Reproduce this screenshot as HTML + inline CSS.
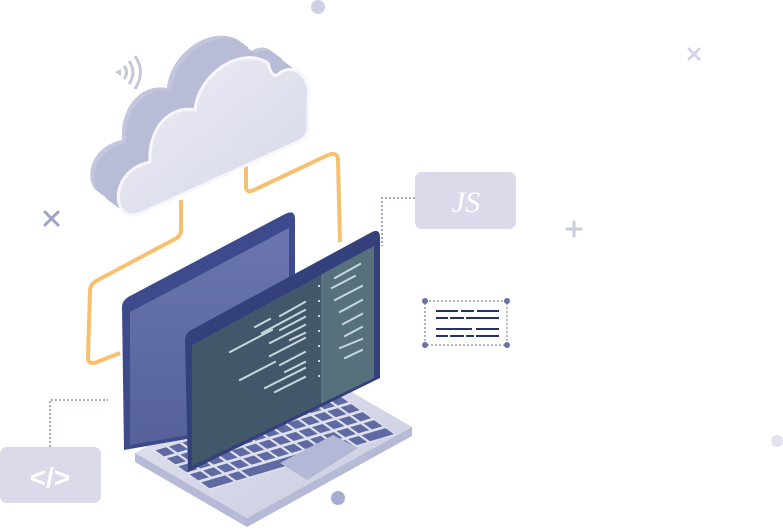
<!DOCTYPE html>
<html><head><meta charset="utf-8"><style>
html,body{margin:0;padding:0;background:#fff;width:783px;height:532px;overflow:hidden}
svg{display:block}
</style></head><body>
<svg width="783" height="532" viewBox="0 0 783 532" xmlns="http://www.w3.org/2000/svg">
<defs>
<linearGradient id="cf" x1="0" y1="0" x2="1" y2="1"><stop offset="0" stop-color="#ededf5"/><stop offset="1" stop-color="#d5d7e8"/></linearGradient>
<linearGradient id="bs" x1="0" y1="0" x2="0" y2="1"><stop offset="0" stop-color="#6a76ad"/><stop offset="1" stop-color="#56619a"/></linearGradient>
<linearGradient id="base" x1="0" y1="0" x2="1" y2="1"><stop offset="0" stop-color="#e4e5f0"/><stop offset="1" stop-color="#c9cbe0"/></linearGradient>
<path id="cl" d="M130 215 C112 212 112 170 150 162 C148 128 170 105 195 110 C198 75 240 45 268 63 C271 76 275 78 281 72 C300 62 312 85 308 100 L308 128 C308 135 303 140 295 143 L148 210 C140 214 135 215 130 215Z"/>
</defs>

<!-- decorations -->
<circle cx="318" cy="7" r="7" fill="#cdd0e3"/>
<circle cx="338" cy="498" r="7" fill="#a8acd0"/>
<circle cx="777" cy="441" r="6" fill="#e2e3ee"/>
<g stroke="#9ea2c6" stroke-width="3" stroke-linecap="round"><line x1="45" y1="212" x2="58" y2="225"/><line x1="58" y1="212" x2="45" y2="225"/></g>
<g stroke="#d4d6e6" stroke-width="3" stroke-linecap="round"><line x1="689" y1="49" x2="699" y2="59"/><line x1="699" y1="49" x2="689" y2="59"/></g>
<g stroke="#c9cbdf" stroke-width="3" stroke-linecap="round"><line x1="574" y1="222" x2="574" y2="236"/><line x1="567" y1="229" x2="581" y2="229"/></g>

<!-- wifi -->
<g fill="none" stroke="#c6c8d8" stroke-width="3">
<path d="M124 66 q5 6 0 13"/><path d="M129 61 q8 11 0 23"/><path d="M135 56 q11 16 0 33"/>
</g>
<path d="M115 72 l6 -3 v7z" fill="#c6c8d8"/>

<!-- orange connectors -->
<g fill="none" stroke="#f7c06e" stroke-width="4" stroke-linejoin="round">
<path d="M181 200 V230 q0 6 -6 9 L96 281 q-6 4 -6 10 L88 356 q0 10 9 6 L120 353"/>
<path d="M246 160 V186 q0 8 8 4 L328 155 q10 -4 10 6 L340 242"/>
</g>

<!-- cloud extrusion -->
<g fill="#b9bcd6">
<use href="#cl" transform="translate(-28,-22)" fill="#c3c5dc"/>
<use href="#cl" transform="translate(-24,-19)"/>
<use href="#cl" transform="translate(-20,-16)"/>
<use href="#cl" transform="translate(-16,-12)"/>
<use href="#cl" transform="translate(-12,-9)"/>
<use href="#cl" transform="translate(-8,-6)"/>
<use href="#cl" transform="translate(-4,-3)"/>
</g>
<use href="#cl" fill="url(#cf)" stroke="#f7f7fb" stroke-width="3"/>

<!-- laptop base -->
<path d="M135 453 L300 362 L412 427 L247 518z" fill="url(#base)"/>
<path d="M135 453 L247 518 L412 427 L412 436 L247 527 L135 462z" fill="#b7bad6"/>
<!-- keyboard -->
<g transform="matrix(13.36,-3.93,11.4,8,153,450)">
<rect x="0" y="0" width="14" height="5" fill="#dfe0ee"/>
<g fill="#5f6aa3">
<rect x="0.1" y="0.1" width="0.8" height="0.75"/><rect x="1.1" y="0.1" width="0.8" height="0.75"/><rect x="2.1" y="0.1" width="0.8" height="0.75"/><rect x="3.1" y="0.1" width="0.8" height="0.75"/><rect x="4.1" y="0.1" width="0.8" height="0.75"/><rect x="5.1" y="0.1" width="0.8" height="0.75"/><rect x="6.1" y="0.1" width="0.8" height="0.75"/><rect x="7.1" y="0.1" width="0.8" height="0.75"/><rect x="8.1" y="0.1" width="0.8" height="0.75"/><rect x="9.1" y="0.1" width="0.8" height="0.75"/><rect x="10.1" y="0.1" width="0.8" height="0.75"/><rect x="11.1" y="0.1" width="0.8" height="0.75"/><rect x="12.1" y="0.1" width="0.8" height="0.75"/><rect x="13.1" y="0.1" width="0.8" height="0.75"/>
<rect x="0.1" y="1.1" width="0.8" height="0.75"/><rect x="1.1" y="1.1" width="0.8" height="0.75"/><rect x="2.1" y="1.1" width="0.8" height="0.75"/><rect x="3.1" y="1.1" width="0.8" height="0.75"/><rect x="4.1" y="1.1" width="0.8" height="0.75"/><rect x="5.1" y="1.1" width="0.8" height="0.75"/><rect x="6.1" y="1.1" width="0.8" height="0.75"/><rect x="7.1" y="1.1" width="0.8" height="0.75"/><rect x="8.1" y="1.1" width="0.8" height="0.75"/><rect x="9.1" y="1.1" width="0.8" height="0.75"/><rect x="10.1" y="1.1" width="0.8" height="0.75"/><rect x="11.1" y="1.1" width="0.8" height="0.75"/><rect x="12.1" y="1.1" width="0.8" height="0.75"/><rect x="13.1" y="1.1" width="0.8" height="0.75"/>
<rect x="0.1" y="2.1" width="0.8" height="0.75"/><rect x="1.1" y="2.1" width="0.8" height="0.75"/><rect x="2.1" y="2.1" width="0.8" height="0.75"/><rect x="3.1" y="2.1" width="0.8" height="0.75"/><rect x="4.1" y="2.1" width="0.8" height="0.75"/><rect x="5.1" y="2.1" width="0.8" height="0.75"/><rect x="6.1" y="2.1" width="0.8" height="0.75"/><rect x="7.1" y="2.1" width="0.8" height="0.75"/><rect x="8.1" y="2.1" width="0.8" height="0.75"/><rect x="9.1" y="2.1" width="0.8" height="0.75"/><rect x="10.1" y="2.1" width="0.8" height="0.75"/><rect x="11.1" y="2.1" width="0.8" height="0.75"/><rect x="12.1" y="2.1" width="0.8" height="0.75"/><rect x="13.1" y="2.1" width="0.8" height="0.75"/>
<rect x="0.1" y="3.1" width="0.8" height="0.75"/><rect x="1.1" y="3.1" width="0.8" height="0.75"/><rect x="2.1" y="3.1" width="0.8" height="0.75"/><rect x="3.1" y="3.1" width="0.8" height="0.75"/><rect x="4.1" y="3.1" width="0.8" height="0.75"/><rect x="5.1" y="3.1" width="0.8" height="0.75"/><rect x="6.1" y="3.1" width="0.8" height="0.75"/><rect x="7.1" y="3.1" width="0.8" height="0.75"/><rect x="8.1" y="3.1" width="0.8" height="0.75"/><rect x="9.1" y="3.1" width="0.8" height="0.75"/><rect x="10.1" y="3.1" width="0.8" height="0.75"/><rect x="11.1" y="3.1" width="0.8" height="0.75"/><rect x="12.1" y="3.1" width="0.8" height="0.75"/><rect x="13.1" y="3.1" width="0.8" height="0.75"/>
<rect x="0.1" y="4.1" width="1.8" height="0.75"/><rect x="2.1" y="4.1" width="0.8" height="0.75"/><rect x="3.1" y="4.1" width="6.8" height="0.75"/><rect x="10.1" y="4.1" width="0.8" height="0.75"/><rect x="11.1" y="4.1" width="0.8" height="0.75"/><rect x="12.1" y="4.1" width="1.8" height="0.75"/>
</g>
</g>
<!-- trackpad -->
<path d="M280 463 L333 435 L358 448 L307 480z" fill="#b4b8d6"/>

<!-- back screen -->
<path d="M122 307 Q122 300 130 296 L285 214 Q295 209 295 219 L295 420 L124 450 Z" fill="#3d4a8c"/>
<path d="M130 312 L289 228 L289 418 L130 445 Z" fill="url(#bs)"/>

<!-- front screen -->
<path d="M185 340 Q185 333 193 329 L372 232 Q380 228 380 238 L380 378 L188 472 Z" fill="#33407c"/>
<path d="M192 345 L374 246 L374 378 L192 466 Z" fill="#45596a" opacity="0.95"/>
<path d="M322 274 L374 246 L374 378 L322 403 Z" fill="#56707c"/>
<line x1="322" y1="274" x2="322" y2="403" stroke="#6c8590" stroke-width="1"/>
<g stroke="#c7d8dc" stroke-width="2" stroke-linecap="square">
<line x1="255" y1="327" x2="270" y2="319"/><line x1="280" y1="316" x2="305" y2="302"/>
<line x1="262" y1="333" x2="305" y2="310"/><line x1="280" y1="330" x2="305" y2="317"/>
<line x1="230" y1="352" x2="272" y2="330"/><line x1="270" y1="343" x2="305" y2="325"/>
<line x1="290" y1="340" x2="305" y2="333"/><line x1="270" y1="356" x2="305" y2="338"/>
<line x1="240" y1="380" x2="275" y2="362"/><line x1="280" y1="365" x2="305" y2="352"/>
<line x1="285" y1="372" x2="305" y2="362"/><line x1="265" y1="388" x2="305" y2="368"/>
<line x1="275" y1="392" x2="305" y2="377"/>
<line x1="335" y1="278" x2="360" y2="264"/><line x1="332" y1="288" x2="355" y2="276"/>
<line x1="335" y1="300" x2="362" y2="286"/><line x1="340" y1="312" x2="362" y2="300"/>
<line x1="343" y1="324" x2="362" y2="314"/><line x1="345" y1="336" x2="362" y2="327"/>
<line x1="340" y1="348" x2="362" y2="339"/><line x1="345" y1="358" x2="362" y2="350"/>
</g>
<g fill="#c7d8dc"><rect x="318" y="285" width="2" height="2"/><rect x="318" y="300" width="2" height="2"/><rect x="318" y="315" width="2" height="2"/><rect x="318" y="330" width="2" height="2"/><rect x="318" y="345" width="2" height="2"/><rect x="318" y="360" width="2" height="2"/><rect x="318" y="375" width="2" height="2"/></g>

<!-- JS box -->
<polyline points="415,198 382,198 382,246" fill="none" stroke="#a4a7c6" stroke-width="2" stroke-dasharray="2,2"/>
<rect x="415" y="172" width="101" height="57" rx="7" fill="#dadaea"/>
<text x="466" y="212" text-anchor="middle" font-family="Liberation Serif, serif" font-style="italic" font-size="30" fill="#fff">JS</text>

<!-- code box -->
<rect x="425" y="301" width="82" height="44" fill="none" stroke="#9a9ec0" stroke-width="1.5" stroke-dasharray="2,2"/>
<g fill="#6a70a8"><circle cx="425" cy="301" r="3"/><circle cx="507" cy="301" r="3"/><circle cx="425" cy="345" r="3"/><circle cx="507" cy="345" r="3"/></g>
<g stroke="#263368" stroke-width="2">
<line x1="436" y1="311" x2="458" y2="311"/><line x1="461" y1="311" x2="474" y2="311"/><line x1="477" y1="311" x2="499" y2="311"/>
<line x1="436" y1="318" x2="448" y2="318"/><line x1="450" y1="318" x2="464" y2="318"/><line x1="466" y1="318" x2="499" y2="318"/>
<line x1="436" y1="329" x2="472" y2="329"/><line x1="476" y1="329" x2="499" y2="329"/>
<line x1="436" y1="336" x2="448" y2="336"/><line x1="450" y1="336" x2="464" y2="336"/><line x1="466" y1="336" x2="474" y2="336"/><line x1="476" y1="336" x2="499" y2="336"/>
</g>

<!-- </> box -->
<polyline points="50,447 50,400 108,400" fill="none" stroke="#6a70a0" stroke-width="1.2" stroke-dasharray="2,2"/>
<rect x="0" y="447" width="101" height="56" rx="7" fill="#dadaea"/>
<text x="50" y="487" text-anchor="middle" font-family="Liberation Sans, sans-serif" font-weight="bold" font-size="28" fill="#fff">&lt;/&gt;</text>
</svg>
</body></html>
